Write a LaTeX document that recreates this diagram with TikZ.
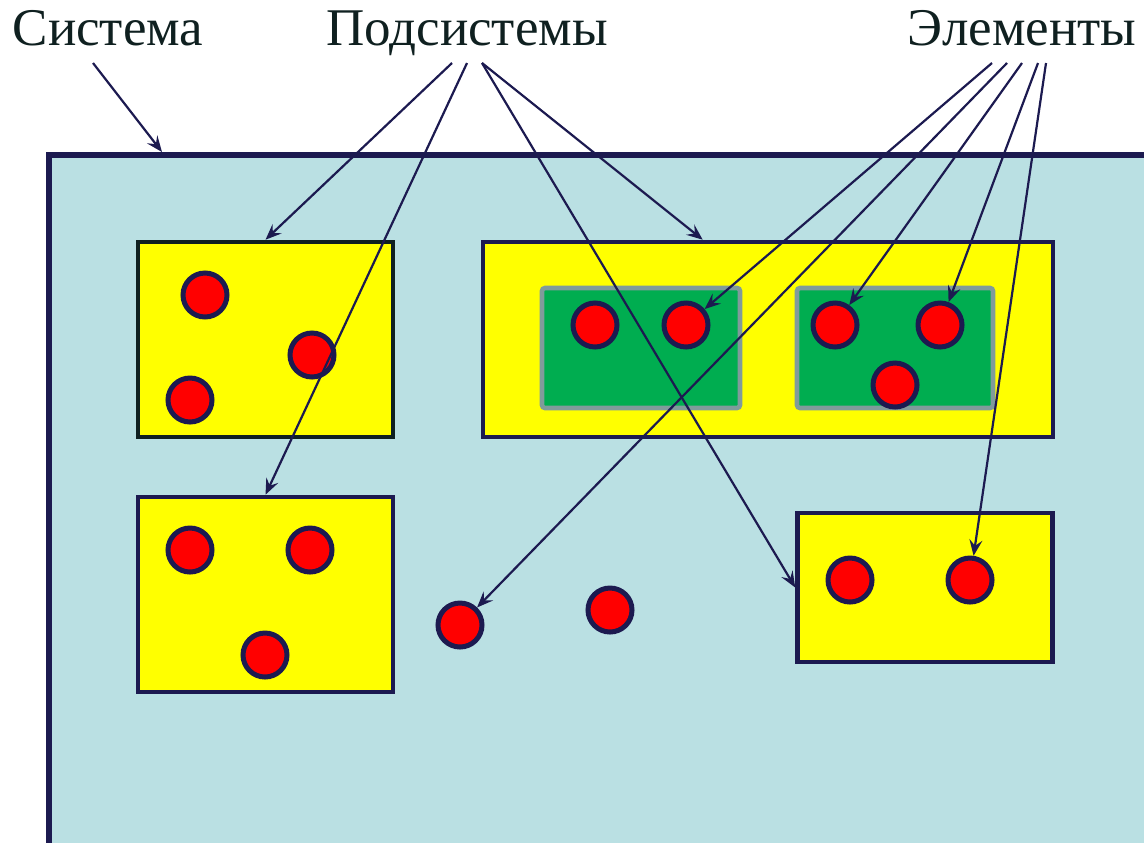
\documentclass[tikz,border=0pt]{standalone}
\usepackage{fontspec}
\setmainfont{Liberation Serif}
\usetikzlibrary{shapes,arrows,arrows.meta,positioning}
\definecolor{navy}{RGB}{28,26,80}
\definecolor{ink}{RGB}{15,32,32}
\definecolor{sky}{RGB}{186,224,227}
\definecolor{lemon}{RGB}{255,255,0}
\definecolor{leaf}{RGB}{0,173,80}
\definecolor{slate}{RGB}{128,155,155}
\definecolor{berry}{RGB}{255,0,0}
\tikzstyle{heading} = [text=ink, font=\fontsize{26.5}{30}\selectfont, inner sep=0pt, anchor=base]
\tikzstyle{system} = [rectangle, draw=navy, fill=sky, line width=3pt,
    minimum width=560.5pt, minimum height=357.5pt, inner sep=0pt]
\tikzstyle{subsystem} = [rectangle, draw=navy, fill=lemon, line width=2.3pt,
    minimum width=127.5pt, minimum height=97.5pt, inner sep=0pt]
\tikzstyle{group} = [rectangle, draw=slate, fill=leaf, line width=2.3pt, rounded corners=1.5pt,
    minimum width=99pt, minimum height=60pt, inner sep=0pt]
\tikzstyle{element} = [circle, draw=navy, fill=berry, line width=2.5pt, minimum size=22pt, inner sep=0pt]
\tikzstyle{line} = [draw=navy, line width=1.1pt, -{Stealth[length=8pt, width=6.5pt, inset=3pt]}]

\begin{document}
\begin{tikzpicture}[x=0.5pt, y=-0.5pt]
        \clip (0,0) rectangle (1144,842);
        \node [heading] (sys) at (108,45) {Система};
        \node [heading] (sub) at (467,45) {Подсистемы};
        \node [heading] (elem) at (1022,45) {Элементы};

        \node [system] (whole) at (609.5,512.5) {};
        \node [subsystem, draw=ink] (subA) at (265.5,339.5) {};
        \node [subsystem] (subB) at (265.5,594.5) {};
        \node [subsystem, minimum width=285pt] (subC) at (768,339.5) {};
        \node [subsystem, minimum height=74.5pt] (subD) at (925,587.5) {};
        \node [group] (grpA) at (641,348) {};
        \node [group, minimum width=98pt] (grpB) at (895,348) {};

        \foreach \n/\x/\y in {a1/205/295, a2/312/355, a3/190/400,
            b1/190/550, b2/310/550, b3/265/655,
            g1/595/325, g2/686/325, h1/835/325, h2/940/325, h3/895/385,
            d1/850/580, d2/970/580, f1/460/625, f2/610/610}
            \node [element] (\n) at (\x,\y) {};

        \path [line] ([shift={(-15,18)}]sys.base) -- ([xshift=58pt]whole.north west);
        \path [line] ([shift={(-15,18)}]sub.base) -- (subA.north);
        \path [line] ([shift={(0,18)}]sub.base) -- (subB.north);
        \path [line] ([shift={(15,18)}]sub.base) -- (subD.west);
        \path [line] ([shift={(15,18)}]sub.base) -- ([xshift=111pt]subC.north west);
        \path [line] ([shift={(-30,18)}]elem.base) -- (g2);
        \path [line] ([shift={(-15,18)}]elem.base) -- (f1);
        \path [line] ([shift={(0,18)}]elem.base) -- (h1);
        \path [line] ([shift={(16,18)}]elem.base) -- (h2);
        \path [line] ([shift={(24,18)}]elem.base) -- (d2);
    \end{tikzpicture}
\end{document}
